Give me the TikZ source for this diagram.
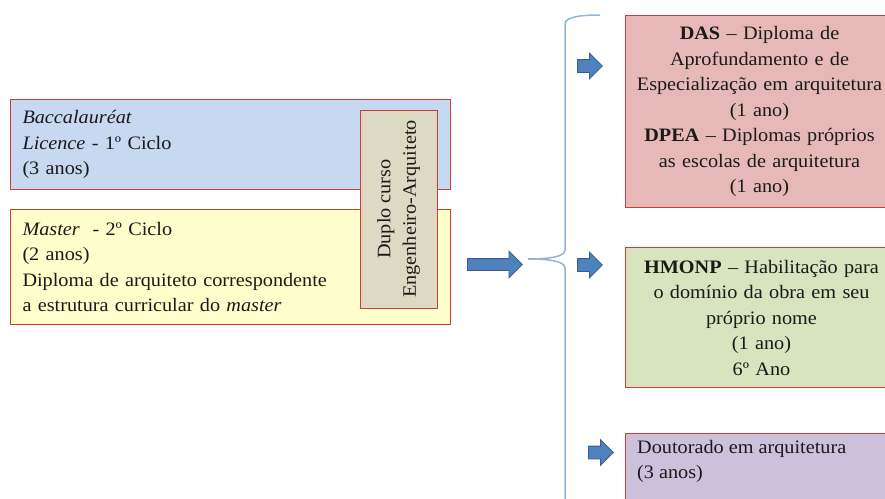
\documentclass[tikz,border=0pt]{standalone}
\usepackage{fontspec}
\setmainfont[FakeStretch=1.065]{Liberation Serif}
\usetikzlibrary{shapes.arrows}
\definecolor{boxred}{HTML}{D23A36}
\definecolor{fillblue}{HTML}{C6D9F1}
\definecolor{fillyellow}{HTML}{FFFFCC}
\definecolor{fillgrey}{HTML}{DDD9C3}
\definecolor{fillrose}{HTML}{E6B9B8}
\definecolor{fillgreen}{HTML}{D7E4BD}
\definecolor{fillviolet}{HTML}{CCC1DA}
\definecolor{arrowfill}{HTML}{4F81BD}
\definecolor{arrowline}{HTML}{385D8A}
\definecolor{bracecol}{HTML}{95B3D7}
\definecolor{inkcol}{HTML}{1A1A1A}
\tikzset{
  cyclebox/.style={draw=boxred, line width=1pt, rectangle, inner sep=0pt,
    font=\fontsize{19}{25.5}\selectfont, text=inkcol},
  leftbox/.style={cyclebox, anchor=north west, align=left,
    text width=#1},
  rightbox/.style={cyclebox, anchor=north west, align=center},
  % block arrow: shaft thickness is 2*ysep, head extends beyond shaft on each side
  fatarrow/.style={single arrow, draw=arrowline, fill=arrowfill, line width=0.8pt,
    inner xsep=0pt, anchor=west},
  bigarrow/.style={fatarrow, inner ysep=5.5pt, single arrow head extend=7.5pt,
    minimum height=55pt},
  smallarrow/.style={fatarrow, inner ysep=6pt, single arrow head extend=6.5pt,
    minimum height=25pt},
}
\begin{document}
\begin{tikzpicture}[x=1pt, y=-1pt]
  \useasboundingbox (0,0) rectangle (885,498);
  \clip (0,0) rectangle (885,498);

  % first and second cycle boxes
  \node[leftbox=416pt, fill=fillblue, minimum width=440pt, minimum height=90pt]
    (licence) at (10,99) {\textit{Baccalauréat}\\\textit{Licence} - 1º Ciclo\\(3 anos)};
  \node[leftbox=416pt, fill=fillyellow, minimum width=440pt, minimum height=115pt]
    (master) at (10,209) {\textit{Master} \ - 2º Ciclo\\(2 anos)\\Diploma de arquiteto correspondente\\a estrutura curricular do \textit{master}};

  % double degree box
  \node[cyclebox, fill=fillgrey, rotate=90, align=center,
    minimum width=198pt, minimum height=77pt] (duplo) at (398.5,209)
    {Duplo curso\\Engenheiro-Arquiteto};

  % main arrow
  \node[bigarrow] (mainarrow) at (467,264.5) {};

  % brace
  \coordinate (bracetip) at (528,259);
  \coordinate (bracetop) at (600,15);
  \coordinate (bracebot) at (565,520);
  \draw[bracecol, line width=1.5pt]
    (bracetop) .. controls (585,15) and (565,16) .. (565,24)
    -- (565,250) .. controls (565,257) and (548,259) .. (bracetip)
    .. controls (548,259) and (565,261) .. (565,268)
    -- (bracebot);

  % small arrows
  \node[smallarrow] (arrowdas) at (577,66) {};
  \node[smallarrow] (arrowhm) at (577,265) {};
  \node[smallarrow] (arrowdoc) at (588,452.5) {};

  % post-master boxes
  \node[rightbox, fill=fillrose, minimum width=268pt, minimum height=192pt,
    text width=262pt] (das) at (625,15)
    {\textbf{DAS} – Diploma de\\Aprofundamento e de\\Especialização em arquitetura\\(1 ano)\\\textbf{DPEA} – Diplomas próprios\\as escolas de arquitetura\\(1 ano)};
  \node[rightbox, fill=fillgreen, minimum width=272pt, minimum height=140pt,
    text width=266pt] (hmonp) at (625,247)
    {\textbf{HMONP} – Habilitação para\\o domínio da obra em seu\\próprio nome\\(1 ano)\\6º Ano};
  \node[cyclebox, anchor=north west, fill=fillviolet, minimum width=275pt,
    minimum height=90pt] (doutorado) at (625,433) {};
  \node[anchor=north west, align=left, inner sep=0pt, text=inkcol,
    font=\fontsize{19}{25.5}\selectfont] (doutext) at (637,440)
    {Doutorado em arquitetura\\(3 anos)};
\end{tikzpicture}
\end{document}
